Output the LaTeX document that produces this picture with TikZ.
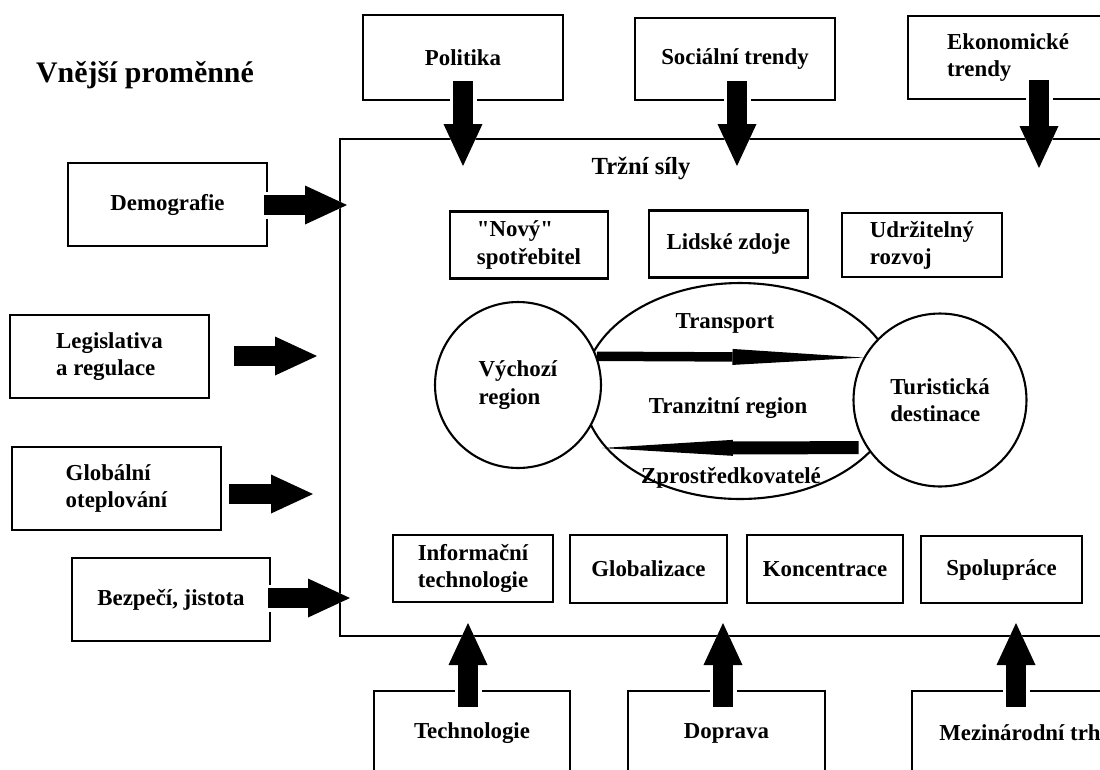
\documentclass[tikz,border=0pt]{standalone}
\usepackage{fontspec}
\setmainfont{Liberation Serif}
\newfontfamily\rawserif{Liberation Serif}
\usetikzlibrary{positioning, shapes.geometric, arrows.meta, calc}

\tikzset{
	txt/.style={font=\bfseries\fontsize{13}{15.5}\selectfont, align=left},
	box/.style={txt, draw, line width=1.4pt, minimum width=4cm, minimum height=1.66cm, inner sep=2pt},
	inbox/.style={box, minimum width=3.18cm, minimum height=1.34cm},
	halo/.style={white, line width=0.54cm, -{Triangle[length=1.02cm, width=0.96cm, line width=0pt]}},
	fat/.style={black, line width=0.4cm, -{Triangle[length=0.84cm, width=0.78cm, line width=0pt]}},
	taper/.style={line width=#1, -{Triangle[length=2.62cm, width=0.32cm, line width=0pt]}}
}
\newcommand{\fatarrow}[2]{\draw[halo] #1 -- #2; \draw[fat] #1 -- #2;}

\begin{document}
\begin{tikzpicture}[x=0.02cm, y=-0.02cm]
	\useasboundingbox (0,0) rectangle (1100,769);
	\clip (0,0) rectangle (1100,769);
	% outer variables
	\node[font=\bfseries\fontsize{17}{20}\selectfont] (vnejsi) at (145,75) {Vnější proměnné};
	\node[box, minimum height=1.7cm] (pol) at (463,57.5) {Politika};
	\node[box, minimum height=1.64cm] (soc) at (735,59) {Sociální trendy};
	\node[box] (eko) at (1008,57.5) {Ekonomické\\trendy};
	\node[box, minimum width=3.98cm] (demo) at (167.5,204.5) {Demografie};
	\node[box, minimum width=3.98cm] (leg) at (109.5,356.5) {Legislativa\\a regulace};
	\node[box, minimum width=4.18cm] (glob) at (116.5,488.5) {Globální\\oteplování};
	\node[box, minimum width=3.96cm] (bezp) at (171,599.5) {Bezpečí, jistota};
	\node[box, minimum width=3.92cm, minimum height=1.68cm] (tech) at (472,733) {Technologie};
	\node[box, minimum width=3.94cm, minimum height=1.68cm] (dopr) at (726.5,733) {Doprava};
	\node[box, minimum width=4.32cm, minimum height=1.68cm] (mezi) at (1020,733) {Mezinárodní trh};

	% market forces frame
	\draw[line width=1.2pt] (1120,139) -- (340,139) -- (340,636) -- (1120,636);
	\node[font=\bfseries\fontsize{14}{17}\selectfont] (trzni) at (641,168) {Tržní síly};

	\coordinate (polT) at (463,166);
	\coordinate (socT) at (737,166);
	\coordinate (ekoT) at (1039,168);
	\coordinate (demoT) at (347,205);
	\coordinate (legT) at (317,356);
	\coordinate (globT) at (313,494);
	\coordinate (bezpT) at (350,598);
	\coordinate (techT) at (468,623);
	\coordinate (doprT) at (723,623);
	\coordinate (meziT) at (1016,623);

	\fatarrow{($(pol.south)+(0,-20)$)}{(polT)}
	\fatarrow{($(soc.south -| socT)+(0,-20)$)}{(socT)}
	\fatarrow{($(eko.south -| ekoT)+(0,-20)$)}{(ekoT)}
	\fatarrow{($(demo.east |- demoT)+(-4,0)$)}{(demoT)}
	\fatarrow{($(leg.east |- legT)+(24,0)$)}{(legT)}
	\fatarrow{($(glob.east |- globT)+(7,0)$)}{(globT)}
	\fatarrow{($(bezp.east |- bezpT)+(-3,0)$)}{(bezpT)}
	\fatarrow{($(tech.north -| techT)+(0,17)$)}{(techT)}
	\fatarrow{($(dopr.north -| doprT)+(0,17)$)}{(doprT)}
	\fatarrow{($(mezi.north -| meziT)+(0,17)$)}{(meziT)}

	% inner forces
	\node[inbox, minimum width=3.16cm] (novy) at (529,245) {{\rawserif"Nový"}\\spotřebitel};
	\node[inbox] (lidske) at (728.5,244) {Lidské zdoje};
	\node[inbox, minimum width=3.2cm, minimum height=1.28cm] (udrz) at (922,245) {Udržitelný\\rozvoj};
	\node[inbox, minimum width=3.2cm] (info) at (473,568.5) {Informační\\technologie};
	\node[inbox, minimum width=3.14cm, minimum height=1.36cm] (glbz) at (648.5,569) {Globalizace};
	\node[inbox, minimum width=3.12cm, minimum height=1.36cm] (konc) at (825,569) {Koncentrace};
	\node[inbox, minimum width=3.22cm] (spol) at (1001.5,569.5) {Spolupráce};

	% tourism system
	\node[draw, ellipse, line width=1.2pt, minimum width=6.28cm, minimum height=4.32cm] (tranz) at (740,391) {};
	\node[txt, draw, circle, fill=white, line width=1.2pt, minimum size=3.32cm] (vych) at (518,385) {Výchozí\\region};
	\node[txt, draw, circle, fill=white, line width=1.2pt, minimum size=3.46cm] (tur) at (940,400) {Turistická\\destinace};
	\node[txt] (transp) at (725,323) {Transport};
	\node[txt] (tranzl) at (728,408) {Tranzitní region};
	\node[txt] (zprost) at (731,478) {Zprostředkovatelé};
	\draw[taper=0.19cm] (vych.20) -- (tur.151);
	\draw[taper=0.26cm] ($(tur.213)+(-8,0)$) -- ($(vych.center)+(84,63)$);
\end{tikzpicture}
\end{document}
